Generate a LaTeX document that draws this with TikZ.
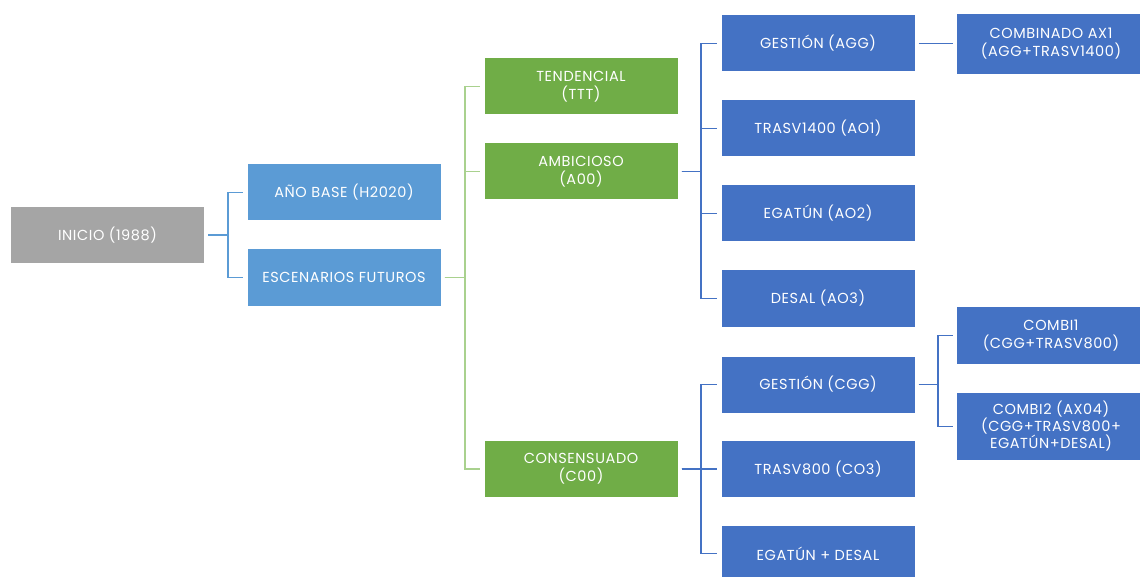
\documentclass[tikz,border=0pt]{standalone}
\usepackage{fontspec}
\setmainfont{Poppins}[LetterSpace=4]
\usepackage{tikz}
\usepackage{xcolor}
\definecolor{grisbox}{HTML}{A5A5A5}
\definecolor{azulclaro}{HTML}{5B9BD5}
\definecolor{verdebox}{HTML}{70AD47}
\definecolor{verdeline}{HTML}{A9D18E}
\definecolor{azulbox}{HTML}{4472C4}
\begin{document}
\begin{tikzpicture}[x=1pt,y=-1pt]
	\tikzstyle{caja} = [rectangle, inner sep=0pt, text=white, align=center, minimum width=193pt, minimum height=56pt, font=\fontsize{14.5}{18}\selectfont]
	\tikzstyle{gris} = [caja, fill=grisbox]
	\tikzstyle{celeste} = [caja, fill=azulclaro]
	\tikzstyle{verde} = [caja, fill=verdebox]
	\tikzstyle{azul} = [caja, fill=azulbox]
	\tikzstyle{lcel} = [draw=azulclaro, line width=1.8pt]
	\tikzstyle{lver} = [draw=verdeline, line width=1.8pt]
	\tikzstyle{lazu} = [draw=azulbox, line width=1.8pt]
	\useasboundingbox (0,0) rectangle (1140,577);
		\node[gris] (inicio) at (107.5,235) {INICIO (1988)};
		\node[celeste] (base) at (344,192.5) {AÑO BASE (H2020)};
		\node[celeste] (futuros) at (344,277.5) {ESCENARIOS FUTUROS};
		\node[verde] (tend) at (581,86.5) {TENDENCIAL\\(TTT)};
		\node[verde] (ambi) at (581,171.5) {AMBICIOSO\\(A00)};
		\node[verde] (cons) at (581,469) {CONSENSUADO\\(C00)};
		\node[azul] (agg) at (818,43.5) {GESTIÓN (AGG)};
		\node[azul] (ao1) at (818,128.5) {TRASV1400 (AO1)};
		\node[azul] (ao2) at (818,213.5) {EGATÚN (AO2)};
		\node[azul] (ao3) at (818,298.5) {DESAL (AO3)};
		\node[azul] (cgg) at (818,384.5) {GESTIÓN (CGG)};
		\node[azul] (co3) at (818,469) {TRASV800 (CO3)};
		\node[azul] (egd) at (818,553.5) {EGATÚN + DESAL};
		\node[azul, minimum width=188pt, minimum height=60pt] (ax1) at (1051,44) {COMBINADO AX1\\(AGG+TRASV1400)};
		\node[azul, minimum width=188pt, minimum height=57pt] (combi1) at (1051,335.5) {COMBI1\\(CGG+TRASV800)};
		\node[azul, minimum width=188pt, minimum height=67pt, font=\fontsize{14.5}{17}\selectfont] (combi2) at (1051,426.5) {COMBI2 (AX04)\\(CGG+TRASV800+\\EGATÚN+DESAL)};
	% inicio
	\draw[lcel] ([xshift=4pt]inicio.east) -- ++(20,0) |- ([xshift=-4pt]base.west);
	\draw[lcel] ([xshift=4pt]inicio.east) -- ++(20,0) |- ([xshift=-4pt]futuros.west);
	% escenarios
	\draw[lver] ([xshift=4pt]futuros.east) -- ++(20,0) |- ([xshift=-4pt]tend.west);
	\draw[lver] ([xshift=4pt]futuros.east) -- ++(20,0) |- ([xshift=-4pt]ambi.west);
	\draw[lver] ([xshift=4pt]futuros.east) -- ++(20,0) |- ([xshift=-4pt]cons.west);
	% ambicioso
	\draw[lazu] ([xshift=4pt]ambi.east) -- ++(19,0) |- ([xshift=-4pt]agg.west);
	\draw[lazu] ([xshift=4pt]ambi.east) -- ++(19,0) |- ([xshift=-4pt]ao1.west);
	\draw[lazu] ([xshift=4pt]ambi.east) -- ++(19,0) |- ([xshift=-4pt]ao2.west);
	\draw[lazu] ([xshift=4pt]ambi.east) -- ++(19,0) |- ([xshift=-4pt]ao3.west);
	\draw[lazu] ([xshift=4pt]agg.east) -- ([xshift=-4pt]agg.east -| ax1.west);
	% consensuado
	\draw[lazu] ([xshift=4pt]cons.east) -- ++(19,0) |- ([xshift=-4pt]cgg.west);
	\draw[lazu] ([xshift=4pt]cons.east) -- ++(19,0) |- ([xshift=-4pt]co3.west);
	\draw[lazu] ([xshift=4pt]cons.east) -- ++(19,0) |- ([xshift=-4pt]egd.west);
	\draw[lazu] ([xshift=4pt]cgg.east) -- ++(19,0) |- ([xshift=-4pt]combi1.west);
	\draw[lazu] ([xshift=4pt]cgg.east) -- ++(19,0) |- ([xshift=-4pt]combi2.west);
\end{tikzpicture}
\end{document}
